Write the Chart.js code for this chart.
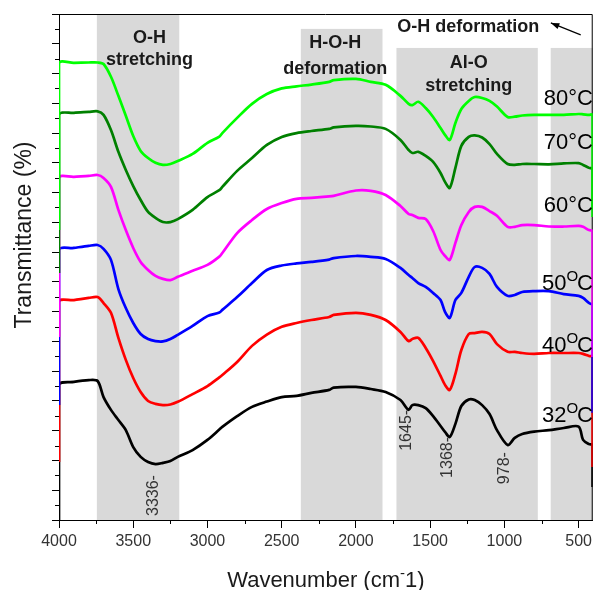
<!DOCTYPE html>
<html>
<head>
<meta charset="utf-8">
<script src="https://cdn.jsdelivr.net/npm/chart.js@4.4.1/dist/chart.umd.min.js"></script>
<style>
  html, body { margin: 0; padding: 0; background: #fff; }
  #wrap { width: 596px; height: 590px; }
</style>
</head>
<body>
<div id="wrap"><canvas id="ftir" width="596" height="590"></canvas></div>
<script>
// wavenumber grid (cm-1); first/last entries repeated for the vertical drops at the plot edges
const wavenumbers = [4000, 4000, 3900, 3800, 3740, 3700, 3650, 3600, 3550, 3500, 3450, 3400, 3350, 3300, 3250, 3200,
  3100, 3000, 2920, 2900, 2800, 2700, 2600, 2500, 2400, 2300, 2180, 2150, 2000, 1900, 1800, 1700, 1645, 1620, 1580,
  1530, 1480, 1430, 1400, 1368, 1330, 1290, 1240, 1200, 1150, 1100, 1050, 978, 930, 880, 800, 700, 600, 500, 470,
  430, 406, 406];

// offset transmittance traces (arbitrary units)
const t80 = [9.74, 15.34, 15.36, 15.37, 15.37, 15.32, 14.89, 14.25, 13.58, 12.90, 12.40, 12.16, 12.00, 11.93, 11.96, 12.06,
  12.30, 12.67, 12.88, 13.00, 13.51, 13.98, 14.31, 14.50, 14.57, 14.63, 14.72, 14.78, 14.82, 14.72, 14.62, 14.25, 13.98, 13.94, 14.05,
  13.84, 13.54, 13.17, 12.94, 12.77, 13.34, 13.81, 14.08, 14.21, 14.18, 14.08, 13.89, 13.54, 13.55, 13.59, 13.61, 13.61, 13.61, 13.64, 13.63,
  13.61, 13.61, 10.18];
const t70 = [8.30, 13.61, 13.68, 13.71, 13.73, 13.61, 13.10, 12.37, 11.76, 11.22, 10.75, 10.35, 10.15, 10.01, 10.01, 10.11,
  10.42, 10.85, 11.08, 11.19, 11.73, 12.16, 12.60, 12.87, 13.00, 13.07, 13.14, 13.19, 13.24, 13.22, 13.14, 12.77, 12.43, 12.33, 12.37,
  12.23, 12.03, 11.66, 11.36, 11.16, 11.83, 12.57, 12.87, 12.92, 12.85, 12.63, 12.30, 11.96, 11.93, 11.96, 11.96, 11.95, 11.98, 11.99, 11.93,
  11.83, 11.79, 10.42];
const t60 = [6.15, 11.49, 11.53, 11.56, 11.59, 11.49, 11.19, 10.42, 9.74, 9.14, 8.67, 8.40, 8.20, 8.10, 8.06, 8.17,
  8.37, 8.57, 8.85, 8.97, 9.64, 10.08, 10.45, 10.65, 10.79, 10.82, 10.87, 10.89, 11.07, 11.06, 10.92, 10.55, 10.28, 10.25, 10.15,
  10.11, 9.71, 9.07, 8.87, 8.74, 9.31, 9.91, 10.35, 10.52, 10.52, 10.38, 10.22, 9.85, 9.85, 9.91, 9.91, 9.86, 9.86, 9.88, 9.85,
  9.74, 9.71, 5.48];
const t50 = [3.86, 9.07, 9.14, 9.21, 9.24, 9.11, 8.74, 7.76, 7.12, 6.62, 6.25, 6.08, 6.01, 6.00, 6.08, 6.22,
  6.52, 6.85, 6.97, 7.06, 7.49, 7.96, 8.40, 8.55, 8.62, 8.67, 8.75, 8.80, 8.87, 8.84, 8.77, 8.47, 8.23, 8.13, 7.96,
  7.83, 7.63, 7.39, 6.99, 6.79, 7.39, 7.63, 8.17, 8.50, 8.47, 8.27, 7.83, 7.53, 7.56, 7.66, 7.69, 7.69, 7.59, 7.53, 7.46,
  7.29, 7.22, 3.60];
const t40 = [1.95, 7.33, 7.39, 7.46, 7.49, 7.29, 6.96, 6.12, 5.38, 4.77, 4.30, 4.00, 3.90, 3.86, 3.88, 3.97,
  4.23, 4.50, 4.79, 4.87, 5.31, 5.85, 6.23, 6.49, 6.62, 6.72, 6.82, 6.89, 6.96, 6.89, 6.72, 6.32, 6.01, 6.08, 6.12,
  5.78, 5.34, 4.84, 4.54, 4.37, 4.91, 5.71, 6.25, 6.28, 6.32, 6.25, 5.91, 5.65, 5.65, 5.61, 5.58, 5.61, 5.61, 5.61, 5.58,
  5.51, 5.48, 1.78];
const t32 = [0, 4.54, 4.64, 4.70, 4.67, 4.13, 3.70, 3.36, 3.02, 2.45, 2.12, 1.95, 1.88, 1.92, 1.98, 2.12,
  2.35, 2.69, 3.04, 3.13, 3.49, 3.80, 3.98, 4.13, 4.17, 4.27, 4.37, 4.45, 4.47, 4.40, 4.30, 4.03, 3.70, 3.86, 3.86,
  3.76, 3.49, 3.16, 2.96, 2.79, 3.23, 3.83, 4.05, 4.03, 3.86, 3.56, 3.02, 2.52, 2.76, 2.89, 2.97, 3.02, 3.09, 3.14, 2.69,
  2.55, 2.52, 1.11];

const temps = ['80', '70', '60', '50', '40', '32'];
const tempMarks = ['°', '°', '°', 'O', 'O', 'O'];
const tempLabelY = [13.94, 12.47, 10.35, 7.73, 5.65, 3.29];
const colors = ['#00ff00', '#008000', '#ff00ff', '#0000ff', '#ff0000', '#000000'];
const traces = [t80, t70, t60, t50, t40, t32];

// shaded regions
const bandFrom = [3745, 2371, 1727, 688];
const bandTo = [3190, 1821, 775, 405];
const bandTop = [17, 16.5, 15.86, 15.86];
const bandText = [['O-H', 'stretching'], ['H-O-H', 'deformation'], ['Al-O', 'stretching']];
const bandTextX = [3390, 2139, 1240];
const bandTextY = [[16.03, 15.27], [15.86, 14.99], [15.18, 14.40]];

// marked peaks
const peaks = [3336, 1645, 1368, 978];
const peakLabelX = [3366, 1659, 1384, 1002];
const peakLabelY = [1.51, 3.70, 2.79, 2.28];

const xTicks = [4000, 3500, 3000, 2500, 2000, 1500, 1000, 500];
const xMinorTicks = [3750, 3250, 2750, 2250, 1750, 1250, 750];

const FONT = 'Arial, "Liberation Sans", sans-serif';

const decorPlugin = {
    id: 'decor',
    beforeDraw(chart) {
        const { ctx, chartArea: a, scales: { x, y } } = chart;
        ctx.save();
        ctx.fillStyle = '#d9d9d9';
        bandFrom.forEach((f, i) => {
            const x1 = x.getPixelForValue(f);
            const x2 = x.getPixelForValue(bandTo[i]);
            const top = y.getPixelForValue(bandTop[i]);
            ctx.fillRect(Math.min(x1, x2), top, Math.abs(x2 - x1), a.bottom - top);
        });
        // top and right frame
        ctx.strokeStyle = '#000';
        ctx.lineWidth = 1;
        ctx.beginPath();
        ctx.moveTo(a.left, a.top + 0.5);
        ctx.lineTo(a.right - 0.5, a.top + 0.5);
        ctx.lineTo(a.right - 0.5, a.bottom);
        ctx.stroke();
        ctx.restore();
    },
    afterDraw(chart) {
        const { ctx, chartArea: a, scales: { x, y } } = chart;
        ctx.save();

        // minor ticks
        ctx.strokeStyle = '#000';
        ctx.lineWidth = 1;
        ctx.beginPath();
        xMinorTicks.forEach(v => {
            const px = Math.round(x.getPixelForValue(v)) + 0.5;
            ctx.moveTo(px, a.bottom);
            ctx.lineTo(px, a.bottom + 4);
        });
        for (let v = 0.5; v < 17; v += 1) {
            const py = Math.round(y.getPixelForValue(v)) + 0.5;
            ctx.moveTo(a.left - 4, py);
            ctx.lineTo(a.left, py);
        }
        ctx.stroke();

        // band captions
        ctx.fillStyle = '#1a1a1a';
        ctx.textAlign = 'center';
        ctx.textBaseline = 'alphabetic';
        ctx.font = 'bold 18px ' + FONT;
        bandText.forEach((lines, i) => {
            lines.forEach((t, j) => {
                ctx.fillText(t, x.getPixelForValue(bandTextX[i]), y.getPixelForValue(bandTextY[i][j]));
            });
        });
        ctx.fillText('O-H deformation', x.getPixelForValue(1243), y.getPixelForValue(16.41));

        // arrow
        const hx = x.getPixelForValue(687), hy = y.getPixelForValue(16.70);
        const tx = x.getPixelForValue(486), ty = y.getPixelForValue(16.30);
        ctx.strokeStyle = '#000';
        ctx.lineWidth = 1.2;
        ctx.beginPath();
        ctx.moveTo(tx, ty);
        ctx.lineTo(hx, hy);
        ctx.stroke();
        const ang = Math.atan2(hy - ty, hx - tx);
        ctx.beginPath();
        ctx.moveTo(hx, hy);
        ctx.lineTo(hx - 9 * Math.cos(ang - 0.35), hy - 9 * Math.sin(ang - 0.35));
        ctx.lineTo(hx - 9 * Math.cos(ang + 0.35), hy - 9 * Math.sin(ang + 0.35));
        ctx.closePath();
        ctx.fillStyle = '#000';
        ctx.fill();

        // temperature labels
        ctx.fillStyle = '#000';
        ctx.textAlign = 'right';
        temps.forEach((t, i) => {
            const xr = 593;
            const yb = y.getPixelForValue(tempLabelY[i]);
            if (tempMarks[i] === '°') {
                ctx.font = '22px ' + FONT;
                ctx.fillText(t + '°C', xr, yb);
            } else {
                ctx.font = '22px ' + FONT;
                const cw = ctx.measureText('C').width;
                ctx.fillText('C', xr, yb);
                ctx.font = '15px ' + FONT;
                const ow = ctx.measureText('O').width;
                ctx.fillText('O', xr - cw + 1, yb - 9);
                ctx.font = '22px ' + FONT;
                ctx.fillText(t, xr - cw - ow + 1, yb);
            }
        });

        // peak labels (rotated)
        ctx.fillStyle = '#333';
        ctx.font = '16px ' + FONT;
        ctx.textAlign = 'right';
        ctx.textBaseline = 'middle';
        peaks.forEach((p, i) => {
            ctx.save();
            ctx.translate(x.getPixelForValue(peakLabelX[i]), y.getPixelForValue(peakLabelY[i]));
            ctx.rotate(-Math.PI / 2);
            ctx.fillText(p + '-', 0, 0);
            ctx.restore();
        });

        // axis titles
        ctx.fillStyle = '#1a1a1a';
        ctx.textBaseline = 'alphabetic';
        ctx.textAlign = 'left';
        ctx.font = '22px ' + FONT;
        const partA = 'Wavenumber (cm';
        const partC = '1)';
        const wA = ctx.measureText(partA).width;
        const wC = ctx.measureText(partC).width;
        ctx.font = '15px ' + FONT;
        const wB = ctx.measureText('-').width;
        const total = wA + wB + wC;
        const cx = (a.left + a.right) / 2;
        let xs = cx - total / 2;
        const base = 587;
        ctx.font = '22px ' + FONT;
        ctx.fillText(partA, xs, base);
        ctx.font = '15px ' + FONT;
        ctx.fillText('-', xs + wA, base - 9);
        ctx.font = '22px ' + FONT;
        ctx.fillText(partC, xs + wA + wB, base);

        ctx.save();
        ctx.translate(31, 235);
        ctx.rotate(-Math.PI / 2);
        ctx.textAlign = 'center';
        ctx.font = '23px ' + FONT;
        ctx.fillText('Transmittance (%)', 0, 0);
        ctx.restore();

        ctx.restore();
    }
};

const datasets = traces.map((tr, i) => ({
    label: temps[i],
    data: wavenumbers.map((w, k) => ({ x: w, y: tr[k] })),
    borderColor: colors[i],
    borderWidth: 2.7,
    pointRadius: 0,
    tension: 0.3,
    fill: false
}));

new Chart(document.getElementById('ftir'), {
    type: 'line',
    data: { datasets },
    options: {
        responsive: false,
        devicePixelRatio: 1,
        animation: false,
        layout: { padding: { top: 14, right: 1, left: 0, bottom: 0 } },
        plugins: { legend: { display: false }, tooltip: { enabled: false } },
        scales: {
            x: {
                type: 'linear',
                reverse: true,
                min: 405,
                max: 4000,
                afterBuildTicks: s => { s.ticks = xTicks.map(v => ({ value: v })); },
                afterFit: s => { s.height = 70; },
                grid: { display: true, drawOnChartArea: false, drawTicks: true, tickLength: 8, tickColor: '#000' },
                border: { display: true, color: '#000', width: 1 },
                ticks: {
                    color: '#333',
                    font: { family: FONT, size: 16 },
                    padding: 4,
                    maxRotation: 0,
                    autoSkip: false,
                    callback: v => String(v)
                }
            },
            y: {
                type: 'linear',
                min: 0,
                max: 17,
                afterFit: s => { s.width = 59; },
                grid: { display: true, drawOnChartArea: false, drawTicks: true, tickLength: 7, tickColor: '#000' },
                border: { display: true, color: '#000', width: 1 },
                ticks: { display: false, stepSize: 1 }
            }
        }
    },
    plugins: [decorPlugin]
});
</script>
</body>
</html>
